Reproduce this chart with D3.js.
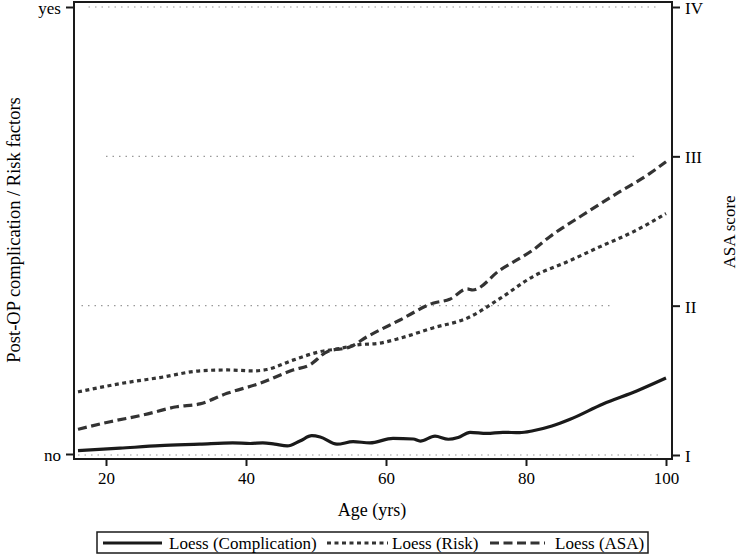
<!DOCTYPE html>
<html><head><meta charset="utf-8">
<script src="https://cdn.jsdelivr.net/npm/d3@7"></script>
<style>body{margin:0;background:#fff}svg{display:block}text{font-family:"Liberation Serif","Times New Roman",serif;fill:#000}</style>
</head><body>
<svg id="c" width="742" height="556"></svg>
<script>
const xTicks = [20, 40, 60, 80, 100];
const leftTicks = [0, 1];
const leftTickLabels = ["no", "yes"];
const rightTicks = [1, 2, 3, 4];
const rightTickLabels = ["I", "II", "III", "IV"];
const legendLabels = ["Loess (Complication)", "Loess (Risk)", "Loess (ASA)"];

const compAge = [16,22,27.7,33.4,38.1,40.6,42.4,44.1,45.9,47.7,49.4,50.6,53,55.3,57.7,61,63.9,64.9,67,68.9,70.3,72,74.4,76.7,79.1,81,83.7,86.3,91,95.9,100];
const compVal = [0.0074,0.013,0.0186,0.022,0.025,0.0235,0.025,0.022,0.018,0.029,0.041,0.038,0.022,0.0275,0.025,0.035,0.0336,0.029,0.040,0.033,0.037,0.0485,0.046,0.0485,0.0477,0.052,0.0626,0.0776,0.112,0.1416,0.17];

const riskAge = [16,23,27.7,33.4,37.3,41,43,46.7,50.6,53.4,55.9,59.1,62,66.7,71.6,76.3,81,85.9,90.6,95.3,100];
const riskVal = [0.139,0.160,0.171,0.186,0.188,0.186,0.189,0.210,0.229,0.236,0.244,0.248,0.259,0.282,0.304,0.348,0.397,0.430,0.464,0.497,0.538];

const asaAge = [16,20.6,25.3,30.1,33.4,37.3,42,46.7,49.1,51.6,54.9,57.3,62,66.7,69.1,71.6,72.4,76.3,78.7,81,83.4,88.1,93,97.7,100];
const asaVal = [1.172,1.223,1.268,1.323,1.342,1.413,1.480,1.569,1.603,1.692,1.725,1.792,1.904,2.016,2.043,2.112,2.105,2.239,2.306,2.373,2.462,2.607,2.752,2.886,2.964];

const svg = d3.select("#c");
const L = 74, R = 672, T = 2, B = 459;
const x = d3.scaleLinear().domain([20, 100]).range([106, 666]);
const yL = d3.scaleLinear().domain([0, 1]).range([454, 7]);
const yR = d3.scaleLinear().domain([1, 4]).range([455, 7]);
const ink = "#1a1a1a";
const FS = 17;

// gridlines (dotted), spans listed for I, II, III, IV
const gridSpans = [[16, 99], [16.5, 92.5], [20, 96], [17.5, 98.5]];
rightTicks.forEach((t, i) => {
  svg.append("line").attr("x1", x(gridSpans[i][0])).attr("x2", x(gridSpans[i][1]))
    .attr("y1", yR(t)).attr("y2", yR(t))
    .attr("stroke", "#999").attr("stroke-width", 1.2).attr("stroke-dasharray", "1.5,5");
});

// frame
svg.append("rect").attr("x", L).attr("y", T).attr("width", R - L).attr("height", B - T)
  .attr("fill", "none").attr("stroke", ink).attr("stroke-width", 2);

// x axis
const xAxis = svg.append("g").attr("transform", `translate(0,${B})`)
  .call(d3.axisBottom(x).tickValues(xTicks).tickSize(7).tickPadding(6).tickFormat(d3.format("d")));
xAxis.select(".domain").remove();
xAxis.selectAll("line").attr("stroke", ink).attr("stroke-width", 2);
xAxis.selectAll("text").attr("font-size", FS).attr("fill", "#000");

// left axis
const lAxis = svg.append("g").attr("transform", `translate(${L},0)`)
  .call(d3.axisLeft(yL).tickValues(leftTicks).tickSize(8).tickPadding(5).tickFormat((d, i) => leftTickLabels[i]));
lAxis.select(".domain").remove();
lAxis.selectAll("line").attr("stroke", ink).attr("stroke-width", 2);
lAxis.selectAll("text").attr("font-size", FS).attr("fill", "#000").attr("dy", "6.5px");

// right axis
const rAxis = svg.append("g").attr("transform", `translate(${R},0)`)
  .call(d3.axisRight(yR).tickValues(rightTicks).tickSize(8).tickPadding(5).tickFormat((d, i) => rightTickLabels[i]));
rAxis.select(".domain").remove();
rAxis.selectAll("line").attr("stroke", ink).attr("stroke-width", 2);
rAxis.selectAll("text").attr("font-size", FS).attr("fill", "#000").attr("dy", "6.5px");

// titles
svg.append("text").attr("x", 372).attr("y", 516).attr("text-anchor", "middle").attr("font-size", 18).text("Age (yrs)");
svg.append("text").attr("transform", "translate(14,230) rotate(-90)").attr("dy", "0.35em").attr("text-anchor", "middle").attr("font-size", 18.5).text("Post-OP complication / Risk factors");
svg.append("text").attr("transform", "translate(729,232) rotate(-90)").attr("dy", "0.35em").attr("text-anchor", "middle").attr("font-size", FS).text("ASA score");

// lines
const styles = [
  { w: 3.2, dash: null },
  { w: 3.2, dash: "4,3.5" },
  { w: 3.2, dash: "9,4.5" }
];
const lineL = d3.line().x(d => x(d[0])).y(d => yL(d[1])).curve(d3.curveMonotoneX);
const lineR = d3.line().x(d => x(d[0])).y(d => yR(d[1])).curve(d3.curveMonotoneX);
const g = svg.append("g");
g.append("path").datum(compAge.map((a, i) => [a, compVal[i]])).attr("d", lineL)
  .attr("fill", "none").attr("stroke", ink).attr("stroke-width", styles[0].w);
g.append("path").datum(riskAge.map((a, i) => [a, riskVal[i]])).attr("d", lineL)
  .attr("fill", "none").attr("stroke", "#333").attr("stroke-width", styles[1].w).attr("stroke-dasharray", styles[1].dash);
g.append("path").datum(asaAge.map((a, i) => [a, asaVal[i]])).attr("d", lineR)
  .attr("fill", "none").attr("stroke", "#333").attr("stroke-width", styles[2].w).attr("stroke-dasharray", styles[2].dash);

// legend
const lg = svg.append("g");
lg.append("rect").attr("x", 97).attr("y", 532).attr("width", 551).attr("height", 21)
  .attr("fill", "#fff").attr("stroke", ink).attr("stroke-width", 1.5);
const items = [
  { x1: 103, x2: 162, tx: 169 },
  { x1: 327, x2: 388, tx: 392 },
  { x1: 490, x2: 545, tx: 555 }
];
items.forEach((it, i) => {
  lg.append("line").attr("x1", it.x1).attr("x2", it.x2).attr("y1", 543).attr("y2", 543)
    .attr("stroke", i === 0 ? ink : "#333").attr("stroke-width", 3)
    .attr("stroke-dasharray", styles[i].dash);
  lg.append("text").attr("x", it.tx).attr("y", 549).attr("font-size", FS).text(legendLabels[i]);
});
</script>
</body></html>
